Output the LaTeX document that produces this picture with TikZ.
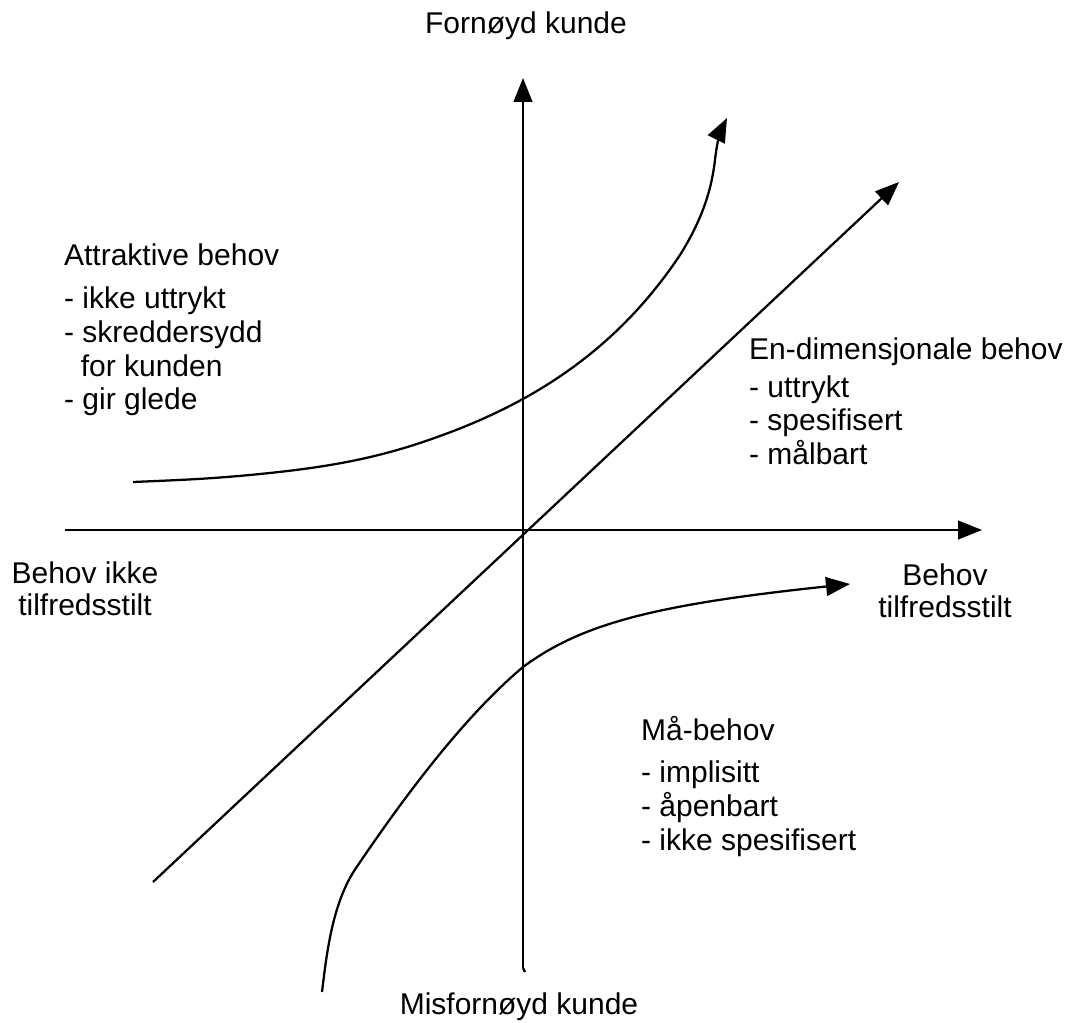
\documentclass[tikz,border=0pt]{standalone}
\usepackage{fontspec}
\setmainfont{Liberation Sans}
\usetikzlibrary{arrows.meta}
\begin{document}
\begin{tikzpicture}[x=0.75pt,y=-0.75pt,
  line width=1.7pt,
  tip/.style={-{Triangle[length=18pt,width=14pt]}},
  lbl/.style={font=\fontsize{22.5}{23.3}\selectfont,inner sep=0pt,anchor=base west},
  lblc/.style={font=\fontsize{22.5}{23.3}\selectfont,inner sep=0pt,anchor=base,align=center}]
\useasboundingbox (0,0) rectangle (1070,1023);

% axes end points
\coordinate (ytop) at (523,78);
\coordinate (ybot) at (523,968);
\coordinate (xl) at (65,530);
\coordinate (xr) at (982,530);
\coordinate (dstart) at (153,882);
\coordinate (dend) at (899,182);
\coordinate (ustart) at (133,482);
\coordinate (uend) at (727,118);
\coordinate (lstart) at (322,992);
\coordinate (lend) at (850,584);

% axes
\draw[tip] (ybot) -- (ytop);
\draw (ybot) -- ++(2,4);
\draw[tip] (xl) -- (xr);

% one-dimensional line
\draw[tip] (dstart) -- (dend);

% attractive curve
\draw[tip] (ustart) .. controls (180,480) and (210,479) .. (260,474)
  .. controls (330,467) and (380,458) .. (440,436)
  .. controls (540,400) and (620,345) .. (680,255)
  .. controls (705,215) and (712,185) .. (715,160)
  .. controls (717,140) and (722,128) .. (uend);

% must-be curve
\draw[tip] (lstart) .. controls (327,950) and (333,902) .. (356,868)
  .. controls (398,806) and (460,720) .. (523,667)
  .. controls (580,625) and (650,605) .. (lend);

% labels
\node[lblc] (tfornoyd) at (526,34) {Fornøyd kunde};
\node[lblc] (tmisfornoyd) at (519,1014) {Misfornøyd kunde};

\node[lbl] (tattr) at (63,266) {Attraktive behov};
\node[lbl] (ta1) at (63,309) {- ikke uttrykt};
\node[lbl] (ta2) at (63,343) {- skreddersydd};
\node[lbl] (ta3) at (63,376) {\ \ for kunden};
\node[lbl] (ta4) at (63,409) {- gir glede};

\node[lbl] (ten) at (748,359) {En-dimensjonale behov};
\node[lbl] (te1) at (748,397) {- uttrykt};
\node[lbl] (te2) at (748,430) {- spesifisert};
\node[lbl] (te3) at (748,464) {- målbart};

\node[lblc] (tikke) at (85,615) {Behov ikke\\tilfredsstilt};
\node[lblc] (ttilf) at (945,617) {Behov\\tilfredsstilt};

\node[lbl] (tma) at (640,740) {Må-behov};
\node[lbl] (tm1) at (640,782) {- implisitt};
\node[lbl] (tm2) at (640,816) {- åpenbart};
\node[lbl] (tm3) at (640,850) {- ikke spesifisert};
\end{tikzpicture}
\end{document}
